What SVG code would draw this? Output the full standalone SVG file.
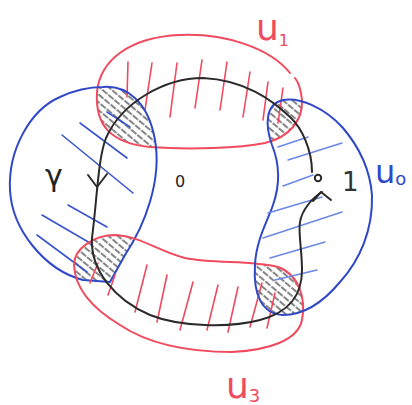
<svg xmlns="http://www.w3.org/2000/svg" width="412" height="405" viewBox="0 0 412 405">
<style>
.red{fill:none;stroke:#f04a5e;stroke-width:2;stroke-linecap:round;stroke-linejoin:round}
.blue{fill:none;stroke:#3048c8;stroke-width:2;stroke-linecap:round;stroke-linejoin:round}
.bh{stroke:#3a55cc;stroke-width:1.6;stroke-linecap:round}
.lbh{stroke:#6a88e6;stroke-width:1.5;stroke-linecap:round}
.rh{stroke:#f04a5e;stroke-width:1.6;stroke-linecap:round}
.blk{fill:none;stroke:#2a2a2a;stroke-width:2;stroke-linecap:round;stroke-linejoin:round}
.lab{font-family:"DejaVu Sans",sans-serif}
</style>
<defs>
<pattern id="gh" patternUnits="userSpaceOnUse" width="8" height="6" patternTransform="rotate(40)">
<line x1="0" y1="3" x2="6" y2="3" stroke="#858585" stroke-width="1.8" stroke-linecap="round"/>
</pattern>
<clipPath id="cU1"><path d="M 290,73 C 270,48 225,33 180,35 C 130,37 100,60 97,92 C 95,125 110,143 150,147 C 190,150 240,148 265,143 C 290,137 303,120 302,100 C 301,90 299,83 290,73 Z"/></clipPath>
<clipPath id="cU3"><path d="M 115,235 C 140,236 160,252 185,258 C 215,264 250,260 278,267 C 300,275 306,300 302,320 C 298,340 270,350 232,352 C 190,352 150,345 120,325 C 95,310 75,290 74,265 C 74,248 95,235 115,235 Z"/></clipPath>
</defs>
<g id="overlaps">
<path clip-path="url(#cU1)" fill="url(#gh)" d="M 103,87 C 125,85 148,100 155,140 C 162,180 145,225 125,255 L 110,282 L 83,280 C 45,270 12,230 10,190 C 8,150 30,110 60,97 C 75,90 90,87 103,87 Z"/>
<path clip-path="url(#cU1)" fill="url(#gh)" d="M 283,100 C 300,97 325,108 343,128 C 360,148 370,170 372,195 C 373,230 360,260 340,282 C 325,300 305,315 283,315 C 262,314 253,295 255,265 C 256,240 268,220 273,205 C 280,185 280,165 272,145 C 265,125 265,104 283,100 Z"/>
<path clip-path="url(#cU3)" fill="url(#gh)" d="M 103,87 C 125,85 148,100 155,140 C 162,180 145,225 125,255 L 110,282 L 83,280 C 45,270 12,230 10,190 C 8,150 30,110 60,97 C 75,90 90,87 103,87 Z"/>
<path clip-path="url(#cU3)" fill="url(#gh)" d="M 283,100 C 300,97 325,108 343,128 C 360,148 370,170 372,195 C 373,230 360,260 340,282 C 325,300 305,315 283,315 C 262,314 253,295 255,265 C 256,240 268,220 273,205 C 280,185 280,165 272,145 C 265,125 265,104 283,100 Z"/>
</g>
<g id="U1">
<path class="red" d="M 290,73 C 270,48 225,33 180,35 C 130,37 100,60 97,92 C 95,125 110,143 150,147 C 190,150 240,148 265,143 C 290,137 303,120 302,100 C 301,90 299,83 295,78"/>
<g class="rh">
<line x1="128" y1="62" x2="127" y2="97"/>
<line x1="152" y1="63" x2="145" y2="110"/>
<line x1="177" y1="63" x2="170" y2="117"/>
<line x1="202" y1="60" x2="195" y2="108"/>
<line x1="227" y1="62" x2="220" y2="110"/>
<line x1="250" y1="72" x2="243" y2="117"/>
<line x1="268" y1="82" x2="263" y2="120"/>
<line x1="283" y1="88" x2="278" y2="123"/>
</g>
<text class="lab" x="256" y="40" font-size="36" fill="#f04a5e">u<tspan font-size="16" dy="6">1</tspan></text>
</g>
<g id="U2">
<path class="blue" d="M 103,87 C 125,85 148,100 155,140 C 162,180 145,225 125,255 L 110,282 L 83,280 C 45,270 12,230 10,190 C 8,150 30,110 60,97 C 75,90 90,87 103,87 Z"/>
<g class="bh">
<line x1="80" y1="123" x2="127" y2="158"/>
<line x1="62" y1="135" x2="133" y2="193"/>
<line x1="68" y1="205" x2="107" y2="227"/>
<line x1="42" y1="215" x2="90" y2="243"/>
<line x1="37" y1="235" x2="87" y2="272"/>
<line x1="107" y1="112" x2="130" y2="127"/>
</g>
</g>
<g id="U3">
<path class="red" d="M 115,235 C 140,236 160,252 185,258 C 215,264 250,260 278,267 C 300,275 306,300 302,320 C 298,340 270,350 232,352 C 190,352 150,345 120,325 C 95,310 75,290 74,265 C 74,248 95,235 115,235 Z"/>
<g class="rh">
<line x1="98" y1="263" x2="90" y2="283"/>
<line x1="115" y1="275" x2="108" y2="295"/>
<line x1="147" y1="265" x2="135" y2="312"/>
<line x1="167" y1="275" x2="157" y2="322"/>
<line x1="193" y1="282" x2="180" y2="330"/>
<line x1="218" y1="285" x2="207" y2="330"/>
<line x1="238" y1="287" x2="228" y2="332"/>
<line x1="262" y1="283" x2="250" y2="327"/>
<line x1="275" y1="293" x2="267" y2="328"/>
</g>
<text class="lab" x="226" y="398" font-size="36" fill="#f04a5e">u<tspan font-size="18" dy="4">3</tspan></text>
</g>
<g id="U0">
<path class="blue" d="M 283,100 C 300,97 325,108 343,128 C 360,148 370,170 372,195 C 373,230 360,260 340,282 C 325,300 305,315 283,315 C 262,314 253,295 255,265 C 256,240 268,220 273,205 C 280,185 280,165 272,145 C 265,125 265,104 283,100 Z"/>
<g class="lbh">
<line x1="278" y1="147" x2="308" y2="137"/>
<line x1="288" y1="160" x2="342" y2="143"/>
<line x1="283" y1="186" x2="313" y2="175"/>
<line x1="268" y1="213" x2="322" y2="197"/>
<line x1="263" y1="238" x2="342" y2="212"/>
<line x1="270" y1="258" x2="325" y2="242"/>
<line x1="275" y1="280" x2="317" y2="270"/>
</g>
<text class="lab" x="375" y="183" font-size="32" fill="#3048c8">u<tspan font-size="18" dy="2">o</tspan></text>
</g>
<g id="connectors">
<path id="gamma-path" class="blk" d="M 312,172 C 312,150 302,128 290,117 C 272,100 245,80 203,78 C 165,78 122,102 106,138 C 98,158 97,200 92,238 C 90,270 115,300 150,315 C 180,327 230,328 260,320 C 290,312 302,295 302,270 C 302,250 298,232 300,222 C 302,210 312,198 322,192"/>
<path class="blk" d="M 313,201 L 321,192 L 331,200"/>
<path class="blk" d="M 88,175 L 97,187 L 107,174"/>
</g>
<g id="point1">
<circle cx="318" cy="178" r="3.2" fill="#fff" stroke="#2a2a2a" stroke-width="2"/>
<text class="lab" x="342" y="191" font-size="26" fill="#333">1</text>
</g>
<g id="origin">
<text class="lab" x="175" y="187" font-size="16" fill="#222">0</text>
</g>
<g id="gamma">
<text class="lab" x="45" y="186" font-size="30" fill="#222">γ</text>
</g>
</svg>
